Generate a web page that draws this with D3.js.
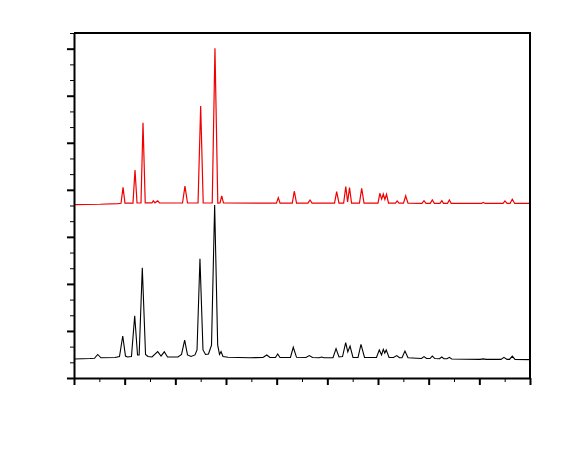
<!DOCTYPE html>
<html>
<head>
<meta charset="utf-8">
<script src="https://cdn.jsdelivr.net/npm/d3@7"></script>
<style>
  body { margin: 0; background: #fff; }
  svg { display: block; }
  .axis path, .axis line { stroke: #000; }
</style>
</head>
<body>
<div id="chart"></div>
<script>
// Width and height
var w = 578;
var h = 472;
var margin = {top: 33, right: 48, bottom: 94, left: 74};

// 2-theta ticks (degrees) and intensity ticks (a.u.)
var xMajor = [5, 10, 15, 20, 25, 30, 35, 40, 45, 50];
var xMinor = [7.5, 12.5, 17.5, 22.5, 27.5, 32.5, 37.5, 42.5, 47.5];
var yMajor = [0, 300, 600, 900, 1200, 1500, 1800, 2100];
var yMinor = [100, 200, 400, 500, 700, 800, 1000, 1100, 1300, 1400, 1600, 1700, 1900, 2000, 2200];

// red pattern (upper, offset)
var redX = [5.00, 7.57, 9.34, 9.64, 9.84, 10.03, 10.82, 11.02, 11.22, 11.61, 11.81, 12.03,
  12.70, 12.83, 12.99, 13.26, 13.44, 15.71, 15.95, 16.20, 17.24, 17.50, 17.75,
  18.64, 18.91, 19.19, 19.41, 19.58, 19.75, 24.98, 25.16, 25.33, 26.54, 26.74, 26.96,
  28.09, 28.29, 28.49, 30.71, 30.92, 31.15, 31.61, 31.82, 32.00, 32.19, 32.39,
  33.17, 33.39, 33.62, 35.00, 35.18, 35.36, 35.52, 35.68, 35.84, 36.04,
  36.73, 36.89, 37.07, 37.52, 37.73, 37.96, 39.34, 39.54, 39.74, 40.16, 40.36, 40.56,
  41.12, 41.30, 41.46, 41.86, 42.04, 42.22, 45.21, 45.39, 45.56, 47.34, 47.53, 47.73,
  48.03, 48.25, 48.49, 50.00];
var redY = [1106, 1108, 1112, 1114, 1216, 1115, 1115, 1326, 1116, 1116, 1628, 1117,
  1117, 1130, 1117, 1130, 1116, 1116, 1224, 1116, 1116, 1734, 1116,
  1116, 2102, 1116, 1117, 1161, 1116, 1115, 1150, 1115, 1115, 1191, 1115,
  1115, 1135, 1115, 1115, 1188, 1115, 1115, 1221, 1122, 1215, 1115,
  1115, 1210, 1115, 1115, 1178, 1141, 1173, 1138, 1171, 1115,
  1115, 1129, 1115, 1115, 1162, 1115, 1114, 1131, 1114, 1114, 1135, 1114,
  1114, 1131, 1114, 1114, 1135, 1114, 1113, 1120, 1113, 1113, 1129, 1113,
  1113, 1140, 1113, 1113];

// black pattern (lower)
var blackX = [5.00, 6.58, 7.02, 7.34, 7.66, 9.05, 9.49, 9.81, 10.08, 10.28, 10.67, 10.99,
  11.27, 11.43, 11.74, 12.06, 12.30, 12.70, 13.26, 13.59, 13.91, 14.23, 15.26, 15.61,
  15.92, 16.20, 16.55, 16.94, 17.14, 17.43, 17.73, 17.98, 18.27, 18.57, 18.88, 19.18,
  19.36, 19.51, 19.70, 20.20, 22.37, 23.65, 24.02, 24.34, 24.88, 25.10, 25.33,
  26.36, 26.64, 26.96, 27.89, 28.22, 28.54, 29.18, 29.44, 29.67, 30.56, 30.86, 31.15,
  31.50, 31.81, 32.02, 32.24, 32.53, 33.03, 33.32, 33.67, 34.85, 35.13, 35.35, 35.52,
  35.67, 35.81, 36.09, 36.53, 36.85, 37.12, 37.37, 37.66, 37.96, 39.29, 39.54, 39.79,
  40.13, 40.36, 40.61, 41.07, 41.29, 41.51, 41.81, 42.04, 42.27, 45.07, 45.39, 45.66,
  47.14, 47.43, 47.73, 47.98, 48.25, 48.52, 50.00];
var blackY = [121, 124, 126, 150, 129, 131, 137, 268, 140, 134, 137, 397,
  147, 147, 703, 150, 137, 134, 168, 140, 167, 134, 134, 150,
  242, 147, 137, 147, 179, 761, 179, 150, 153, 210, 1103, 210,
  150, 168, 137, 132, 129, 131, 147, 131, 131, 153, 131,
  131, 196, 132, 131, 143, 131, 129, 134, 129, 129, 187, 134,
  137, 225, 166, 204, 131, 131, 215, 131, 131, 179, 147, 183,
  159, 179, 131, 131, 143, 129, 129, 172, 129, 124, 136, 124,
  124, 140, 124, 123, 134, 123, 123, 132, 121, 119, 122, 119,
  119, 132, 119, 119, 140, 119, 117];

var xScale = d3.scaleLinear()
  .domain([5, 50])
  .range([margin.left, w - margin.right]);

var yScale = d3.scaleLinear()
  .domain([0, 2200])
  .range([h - margin.bottom, margin.top]);

//Create SVG element
var svg = d3.select("#chart")
  .append("svg")
  .attr("width", w)
  .attr("height", h);

var line = d3.line()
  .x(function(d) { return xScale(d[0]); })
  .y(function(d) { return yScale(d[1]); });

var redData = d3.zip(redX, redY);
var blackData = d3.zip(blackX, blackY);

// patterns
svg.append("path")
  .datum(blackData)
  .attr("d", line)
  .attr("fill", "none")
  .attr("stroke", "#000")
  .attr("stroke-width", 1.1);

svg.append("path")
  .datum(redData)
  .attr("d", line)
  .attr("fill", "none")
  .attr("stroke", "#f00000")
  .attr("stroke-width", 1.2);

// bottom axis: major + minor ticks, no labels
svg.append("g")
  .attr("class", "axis")
  .attr("transform", "translate(0," + (h - margin.bottom) + ")")
  .call(d3.axisBottom(xScale).tickValues(xMinor).tickSize(4).tickFormat(""))
  .call(function(g) { g.select(".domain").remove(); });

svg.append("g")
  .attr("class", "axis")
  .attr("transform", "translate(0," + (h - margin.bottom) + ")")
  .call(d3.axisBottom(xScale).tickValues(xMajor).tickSize(7).tickSizeOuter(0).tickFormat(""))
  .selectAll("line").attr("stroke-width", 2);

// left axis
svg.append("g")
  .attr("class", "axis")
  .attr("transform", "translate(" + margin.left + ",0)")
  .call(d3.axisLeft(yScale).tickValues(yMinor).tickSize(4).tickFormat(""))
  .call(function(g) { g.select(".domain").remove(); });

svg.append("g")
  .attr("class", "axis")
  .attr("transform", "translate(" + margin.left + ",0)")
  .call(d3.axisLeft(yScale).tickValues(yMajor).tickSize(7).tickSizeOuter(0).tickFormat(""))
  .selectAll("line").attr("stroke-width", 2);

svg.selectAll(".axis .domain").attr("stroke-width", 2);

// frame: top and right edges
svg.append("path")
  .attr("d", "M" + margin.left + "," + margin.top +
    "H" + (w - margin.right) + "V" + (h - margin.bottom))
  .attr("fill", "none")
  .attr("stroke", "#000")
  .attr("stroke-width", 2);
</script>
</body>
</html>
